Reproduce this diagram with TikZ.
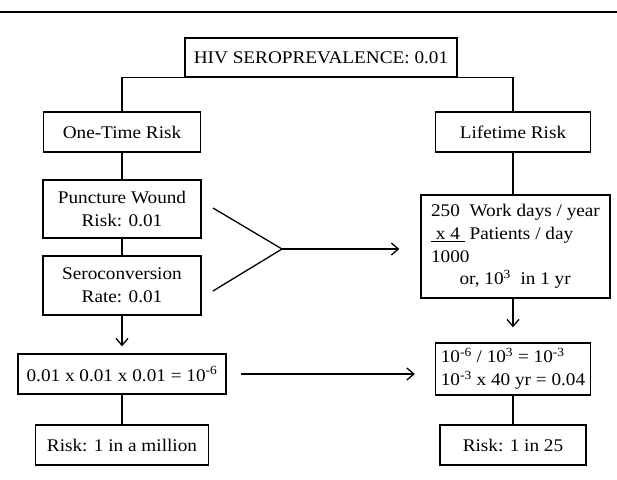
\documentclass[tikz,border=0pt]{standalone}
\usepackage{fontspec}
\setmainfont{Liberation Serif}[FakeStretch=1.08]
\usepackage{tikz}
\usetikzlibrary{
  arrows.meta,
  chains,
  scopes,
  calc
}

\begin{document}
\begin{tikzpicture}[x=1pt,y=-1pt,
      box/.style={
         rectangle,
         line width=1.3pt,
         draw=black,
         inner sep=0pt,
         align=center,
         font=\fontsize{17.8}{22.7}\selectfont
      },
      point/.style={coordinate},
      >={Straight Barb[length=7pt,width=12pt]},line width=1.3pt,
      tip/.style={->},
      rule/.style={line width=2pt}
    ]
    \useasboundingbox (0,0) rectangle (617,479);
    % top rule
    \coordinate (r1) at (0,12);
    \coordinate (r2) at (617,12);
    \draw[rule] (r1) -- (r2);
    % boxes
    \node (hiv) [box, minimum width=272pt, minimum height=39pt] at (321,57.5) {HIV SEROPREVALENCE: 0.01};
    \node (one) [box, minimum width=157pt, minimum height=40pt] at (122,132) {One-Time Risk};
    \node (life) [box, minimum width=155pt, minimum height=40pt] at (513,132) {Lifetime Risk};
    \node (punct) [box, minimum width=158pt, minimum height=58pt] at (122,209) {Puncture Wound\\Risk: 0.01};
    \node (sero) [box, minimum width=158pt, minimum height=59pt] at (122,285.5) {Seroconversion\\Rate: 0.01};
    \node (work) [box, align=left, minimum width=189pt, minimum height=103pt] at (515.5,246.5)
       {250\ \ Work days / year\\\underline{\ x 4\ } Patients / day\\1000\\\hspace{1.6em}or, 10\textsuperscript{3}\ \ in 1 yr};
    \node (formula) [box, minimum width=208pt, minimum height=40pt] at (122,374) {0.01 x 0.01 x 0.01 = 10\textsuperscript{-6}};
    \node (calc) [box, align=left, minimum width=155pt, minimum height=52pt] at (513,369)
       {10\textsuperscript{-6} / 10\textsuperscript{3} = 10\textsuperscript{-3}\\10\textsuperscript{-3} x 40 yr = 0.04};
    \node (riskL) [box, minimum width=173pt, minimum height=40pt] at (122,445) {Risk: 1 in a million};
    \node (riskR) [box, minimum width=146pt, minimum height=40pt] at (513,445) {Risk: 1 in 25};
    % fork
    \node (f1) [point] at (213,208) {};
    \node (f2) [point] at (213,291) {};
    \node (apex) [point] at (282,249) {};
    % connectors
    \draw (one.north) |- (hiv.south) -| (life.north);
    { [start chain]
         \chainin (one);
         \chainin (punct)    [join];
         \chainin (sero)     [join];
    }
    { [start chain]
         \chainin (formula);
         \chainin (riskL)    [join];
    }
    { [start chain]
         \chainin (calc);
         \chainin (riskR)    [join];
    }
    \draw (life.south) -- (life.south |- work.north);
    \draw[tip, shorten >=7pt] (sero) -- (formula);
    \draw[tip, shorten >=15pt] (work.south -| life.south) -- (calc.north);
    \draw (f1) -- (apex) -- (f2);
    \draw[tip, shorten >=21pt] (apex) -- (apex -| work.west);
    \draw[tip, shorten <=14pt, shorten >=20pt] (formula.east) -- (formula.east -| calc.west);
\end{tikzpicture}
\end{document}
